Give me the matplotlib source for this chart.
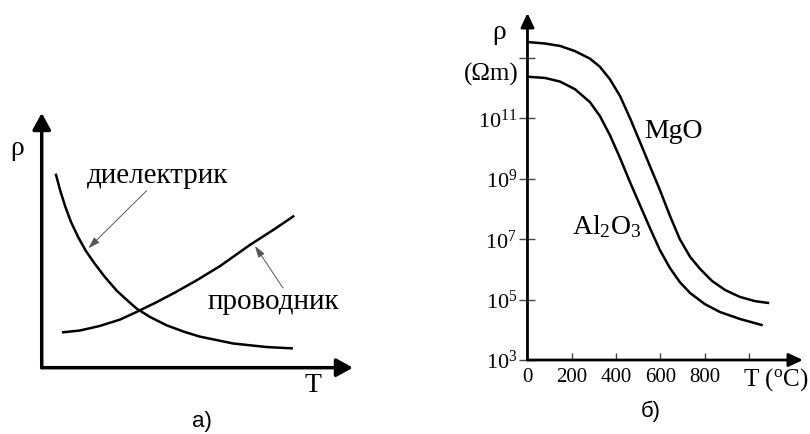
import numpy as np
import matplotlib
matplotlib.use("Agg")
import matplotlib.pyplot as plt
from matplotlib.ticker import NullLocator

plt.rcParams["font.family"] = ["Liberation Serif", "DejaVu Serif"]
plt.rcParams["mathtext.fontset"] = "custom"
plt.rcParams["mathtext.rm"] = "Liberation Serif"
plt.rcParams["mathtext.default"] = "regular"

# a) schematic rho(T), arbitrary units
diel_T = [0.46, 0.59, 0.75, 0.94, 1.17, 1.42, 1.71, 2.03, 2.42, 2.77, 3.05,
          3.48, 4.02, 4.60, 5.08, 6.15, 7.23, 8.03]
diel_rho = [7.57, 6.97, 6.35, 5.72, 5.13, 4.58, 4.07, 3.56, 3.01, 2.62, 2.32,
            1.99, 1.66, 1.40, 1.22, 0.95, 0.81, 0.76]
cond_T = [0.69, 1.23, 1.87, 2.52, 3.05, 3.64, 4.28, 4.99, 5.73, 6.69, 7.49, 8.08]
cond_rho = [1.39, 1.46, 1.64, 1.89, 2.19, 2.54, 2.95, 3.44, 3.99, 4.82, 5.45, 5.94]

# б) log10 of resistivity (Ohm m) vs temperature (C)
mgo_T = [0, 79, 147, 214, 282, 327, 372, 418, 463, 508, 553, 598, 643, 688,
         734, 779, 833, 892, 959, 1027, 1086]
mgo_lg = [13.53, 13.48, 13.40, 13.23, 12.98, 12.71, 12.30, 11.74, 11.01, 10.22,
          9.42, 8.63, 7.78, 7.00, 6.42, 6.02, 5.62, 5.32, 5.09, 4.95, 4.89]
al_T = [0, 79, 147, 214, 282, 327, 372, 418, 463, 508, 553, 598, 643, 688,
        734, 801, 869, 959, 1057]
al_lg = [12.38, 12.34, 12.22, 11.97, 11.54, 11.08, 10.45, 9.69, 8.89, 8.13,
         7.37, 6.64, 6.05, 5.58, 5.22, 4.85, 4.59, 4.36, 4.16]

x_ticks = [0, 200, 400, 600, 800, 1000]
x_labels = ["0", "200", "400", "600", "800", ""]
y_exps = [3, 5, 7, 9, 11, 13]
y_labels = ["$10^{%d}$" % e for e in y_exps[:-1]] + [""]


def axis_arrows(ax, lw, hl, hw):
    style = "-|>,head_length=%g,head_width=%g" % (hl, hw)
    for end in [(1, 0), (0, 1)]:
        ax.annotate("", xy=end, xytext=(0, 0), xycoords="axes fraction",
                    arrowprops=dict(arrowstyle=style, mutation_scale=10, lw=lw,
                                    color="k", shrinkA=0, shrinkB=0),
                    annotation_clip=False)


fig = plt.figure(figsize=(8.1, 4.34), dpi=100)

ax1 = fig.add_axes([0.0515, 0.1528, 0.3843, 0.5869])
ax1.set_xlim(0, 10)
ax1.set_ylim(0, 10)
for s in ax1.spines.values():
    s.set_visible(False)
ax1.set_xticks([])
ax1.set_yticks([])
axis_arrows(ax1, 2.5, 1.0, 0.55)

ax1.plot(diel_T, diel_rho, color="k", lw=1.8, solid_joinstyle="round")
ax1.plot(cond_T, cond_rho, color="k", lw=1.8, solid_joinstyle="round")

thin = dict(arrowstyle="-|>,head_length=0.7,head_width=0.22", mutation_scale=10,
            lw=0.7, color="#555555", shrinkA=0, shrinkB=0)
ax1.annotate("", xy=(1.50, 4.69), xytext=(3.37, 6.95), arrowprops=thin)
ax1.annotate("", xy=(6.85, 4.78), xytext=(7.75, 3.13), arrowprops=thin)
ax1.text(3.71, 7.53, "диелектрик", fontsize=21, ha="center", va="center")
ax1.text(7.44, 2.59, "проводник", fontsize=21, ha="center", va="center")
ax1.text(-0.80, 8.59, "ρ", fontsize=20, ha="center", va="center", clip_on=False)
ax1.text(8.71, -0.68, "T", fontsize=20, ha="center", va="center", clip_on=False)
ax1.text(5.15, -2.10, "а)", fontsize=16, family="Liberation Sans",
         ha="center", va="center", clip_on=False)

ax2 = fig.add_axes([0.6512, 0.1705, 0.3401, 0.7995])
ax2.set_yscale("log")
ax2.set_xlim(0, 1244)
ax2.set_ylim(1e3, 10 ** 14.49)
for s in ax2.spines.values():
    s.set_visible(False)
axis_arrows(ax2, 2.0, 0.85, 0.4)

ax2.plot(mgo_T, 10.0 ** np.array(mgo_lg), color="k", lw=1.8, solid_joinstyle="round")
ax2.plot(al_T, 10.0 ** np.array(al_lg), color="k", lw=1.8, solid_joinstyle="round")

ax2.set_xticks(x_ticks, x_labels)
ax2.set_yticks([10.0 ** e for e in y_exps], y_labels)
ax2.yaxis.set_minor_locator(NullLocator())
ax2.tick_params(axis="x", direction="in", length=5, width=1, pad=6,
                labelsize=15, color="#444444")
ax2.tick_params(axis="y", direction="inout", length=11, width=1, pad=2,
                labelsize=16, color="#444444")

ax2.text(657, 10 ** 10.56, "MgO", fontsize=20, ha="center", va="center")
ax2.text(358, 10 ** 7.41, "$Al_2O_3$", fontsize=20, ha="center", va="center")
ax2.text(-129, 10 ** 13.83, "ρ", fontsize=20, ha="center", va="center", clip_on=False)
ax2.text(-162, 10 ** 12.47, "(Ωm)", fontsize=18, ha="center", va="center", clip_on=False)
ax2.text(1121, 10 ** 2.34, "T ($^{o}$C)", fontsize=18, ha="center", va="center",
         clip_on=False)
ax2.text(558, 10 ** 1.31, "б)", fontsize=16, family="Liberation Sans",
         ha="center", va="center", clip_on=False)

fig.savefig("out.png", dpi=100)
